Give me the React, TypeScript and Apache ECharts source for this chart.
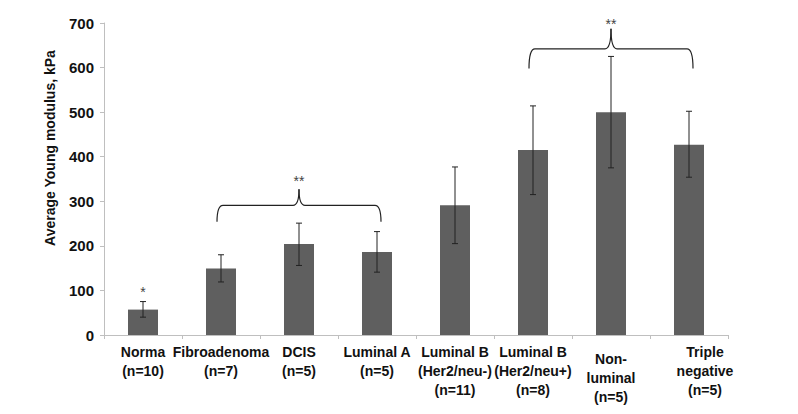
import React, { useEffect, useRef } from "react";
import * as echarts from "echarts";

const categories = [
  "Norma\n(n=10)",
  "Fibroadenoma\n(n=7)",
  "DCIS\n(n=5)",
  "Luminal A\n(n=5)",
  "Luminal B\n(Her2/neu-)\n(n=11)",
  "Luminal B\n(Her2/neu+)\n(n=8)",
  "Non-\nluminal\n(n=5)",
  "Triple\nnegative\n(n=5)",
];
const means = [57, 149, 204, 186, 291, 415, 500, 427];
const errLow = [40, 119, 156, 141, 205, 315, 375, 354];
const errHigh = [75, 180, 251, 232, 377, 514, 625, 502];
// brackets: [startIndex, endIndex, endValue, barValue, tipValue]
const brackets = [
  [1, 3, 254, 291, 327],
  [5, 7, 598, 642, 687],
];
// stars: [index, value, text]
const stars: [number, number, string][] = [
  [0, 96, "*"],
  [2, 346, "**"],
  [6, 698, "**"],
];

const FONT = "'Liberation Sans', Arial, sans-serif";

export default function App() {
  const ref = useRef<HTMLDivElement>(null);
  useEffect(() => {
    const chart = echarts.init(ref.current!, null, { renderer: "svg" });
    const catData = categories.map((c, i) => {
      if (i === 6) return { value: c, textStyle: { padding: [7, 0, 0, 0] } };
      if (i === 7) return { value: c, textStyle: { padding: [0, 0, 0, 32] } };
      return c;
    });
    chart.setOption({
      animation: false,
      grid: { left: 96, right: 62, top: 15, bottom: 66 },
      xAxis: {
        type: "category",
        data: catData,
        axisLine: { lineStyle: { color: "#bfbfbf", width: 1 } },
        axisTick: { show: true, length: 4, lineStyle: { color: "#bfbfbf" } },
        axisLabel: {
          interval: 0,
          color: "#111",
          fontFamily: FONT,
          fontWeight: "bold",
          fontSize: 14,
          lineHeight: 19,
          margin: 7,
        },
      },
      yAxis: {
        type: "value",
        min: 0,
        max: 700,
        interval: 100,
        name: "Average Young modulus, kPa",
        nameLocation: "middle",
        nameGap: 47,
        nameRotate: 90,
        nameTextStyle: {
          color: "#111",
          fontFamily: FONT,
          fontWeight: "bold",
          fontSize: 14,
          padding: [0, 0, 0, 62],
        },
        axisLine: { show: true, lineStyle: { color: "#bfbfbf" } },
        axisTick: { show: true, length: 4, lineStyle: { color: "#bfbfbf" } },
        splitLine: { show: false },
        axisLabel: {
          color: "#111",
          fontFamily: FONT,
          fontWeight: "bold",
          fontSize: 15,
          margin: 10,
        },
      },
      series: [
        {
          type: "bar",
          data: means,
          barWidth: 30,
          itemStyle: { color: "#5f5f5f" },
        },
        {
          type: "custom",
          data: errLow.map((l, i) => [i, l, errHigh[i]]),
          encode: { x: 0, y: [1, 2] },
          z: 5,
          renderItem: (params: any, api: any) => {
            const i = api.value(0);
            const lo = api.coord([i, api.value(1)]);
            const hi = api.coord([i, api.value(2)]);
            const cap = 3;
            const st = { stroke: "#222", lineWidth: 1 };
            return {
              type: "group",
              children: [
                { type: "line", shape: { x1: hi[0], y1: hi[1], x2: lo[0], y2: lo[1] }, style: st },
                { type: "line", shape: { x1: hi[0] - cap, y1: hi[1], x2: hi[0] + cap, y2: hi[1] }, style: st },
                { type: "line", shape: { x1: lo[0] - cap, y1: lo[1], x2: lo[0] + cap, y2: lo[1] }, style: st },
              ],
            };
          },
        },
        {
          type: "custom",
          data: brackets,
          encode: { x: [0, 1], y: [2, 3, 4] },
          z: 5,
          renderItem: (params: any, api: any) => {
            const s = api.value(0);
            const e = api.value(1);
            const pStart = api.coord([s, api.value(2)]);
            const pEnd = api.coord([e, api.value(2)]);
            const yb = pStart[1];
            const yh = api.coord([s, api.value(3)])[1];
            const yt = api.coord([s, api.value(4)])[1];
            const x1 = pStart[0] - 4;
            const x2 = pEnd[0] + 4;
            const xc = (x1 + x2) / 2;
            const r = 6;
            const st = { stroke: "#222", lineWidth: 1.2, fill: "none" };
            return {
              type: "group",
              children: [
                { type: "bezierCurve", shape: { x1: x1, y1: yb, x2: x1 + r, y2: yh, cpx1: x1, cpy1: yh }, style: st },
                { type: "line", shape: { x1: x1 + r, y1: yh, x2: xc - r, y2: yh }, style: st },
                { type: "bezierCurve", shape: { x1: xc - r, y1: yh, x2: xc, y2: yt, cpx1: xc, cpy1: yh }, style: st },
                { type: "bezierCurve", shape: { x1: xc, y1: yt, x2: xc + r, y2: yh, cpx1: xc, cpy1: yh }, style: st },
                { type: "line", shape: { x1: xc + r, y1: yh, x2: x2 - r, y2: yh }, style: st },
                { type: "bezierCurve", shape: { x1: x2 - r, y1: yh, x2: x2, y2: yb, cpx1: x2, cpy1: yh }, style: st },
              ],
            };
          },
        },
        {
          type: "custom",
          data: stars,
          encode: { x: 0, y: 1 },
          z: 6,
          renderItem: (params: any, api: any) => {
            const idx = params.dataIndex;
            const item = stars[idx];
            const p = api.coord([item[0], item[1]]);
            return {
              type: "text",
              x: p[0],
              y: p[1],
              style: {
                text: item[2],
                fill: "#444",
                font: "14px 'Liberation Sans', Arial, sans-serif",
                align: "center",
                verticalAlign: "middle",
              },
            };
          },
        },
      ],
    });
    return () => chart.dispose();
  }, []);
  return <div ref={ref} style={{ width: 782, height: 398 }} />;
}
